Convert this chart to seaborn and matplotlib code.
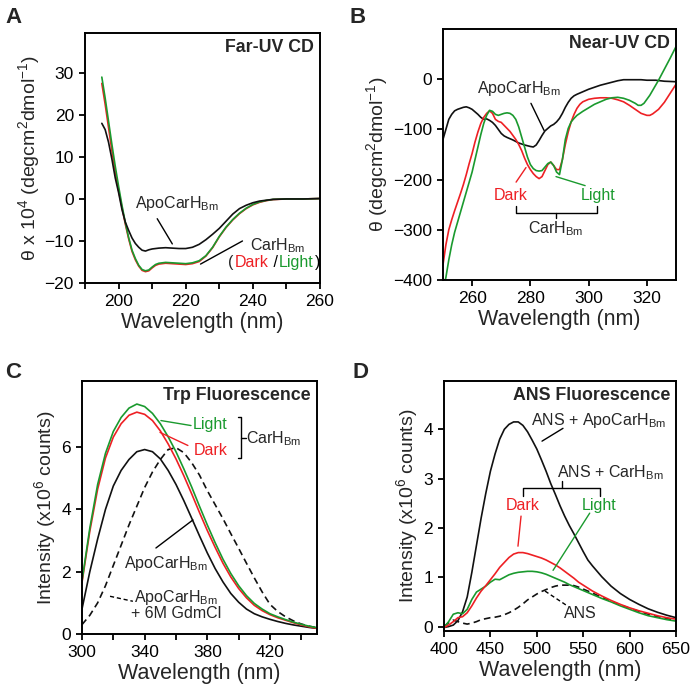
import matplotlib
matplotlib.use("Agg")
from matplotlib import pyplot as plt
from matplotlib.ticker import MultipleLocator
import seaborn as sns

# ---- panel A: far-UV CD (x10^4 deg cm2 dmol-1)
far_wl = [195, 196, 197, 198, 199, 200, 201, 202, 203, 204, 205, 206, 207, 208, 209, 210,
          211, 212, 214, 216, 218, 220, 222, 224, 226, 228, 230, 232, 234, 236, 238, 240,
          242, 244, 246, 250, 255, 260]
far_apo = [18, 16.5, 13.5, 9.5, 5, 1.5, -2.5, -5.5, -7.5, -9.3, -10.6, -11.5, -12.2, -12.4, -12.1, -11.9,
           -11.8, -11.7, -11.6, -11.7, -11.8, -11.8, -11.5, -10.8, -9.7, -8.4, -7.0, -5.3, -3.6, -2.3, -1.5, -0.9,
           -0.5, -0.3, -0.1, 0, 0, 0.1]
far_dark = [27.5, 22.5, 17, 11.5, 6.5, 2, -2, -6, -9.5, -12.5, -14.5, -16, -17, -17.3, -17.1, -16.4,
            -15.8, -15.5, -15.3, -15.4, -15.5, -15.6, -15.4, -14.9, -13.6, -11.6, -9.0, -6.8, -5.0, -3.5, -2.3, -1.4,
            -0.8, -0.4, -0.15, 0, 0, 0.1]
far_light = [29, 24, 18.5, 13, 7.8, 3, -1.5, -5.6, -9.2, -12.2, -14.2, -15.8, -16.8, -17.1, -16.9, -16.2,
             -15.6, -15.3, -15.1, -15.2, -15.3, -15.4, -15.2, -14.7, -13.5, -11.5, -8.9, -6.7, -4.9, -3.4, -2.2, -1.3,
             -0.7, -0.35, -0.1, 0, 0, 0.1]

# ---- panel B: near-UV CD
near_wl_apo = [250, 251, 252, 253, 254, 255, 256, 257, 258, 259, 260, 261, 262, 263, 264, 265, 266, 267,
               268, 269, 270, 271, 272, 274, 276, 278, 280, 281, 282, 283, 284, 285, 286, 287, 288, 289,
               290, 291, 292, 293, 294, 295, 296, 298, 300, 302, 304, 306, 308, 310, 312, 315, 318, 320,
               323, 326, 330]
near_apo = [-120, -100, -80, -70, -63, -60, -58, -56, -55, -57, -60, -65, -70, -76, -80, -79, -82, -86,
            -92, -100, -108, -113, -116, -121, -127, -131, -134, -135, -131, -122, -112, -103, -98, -93, -90, -85,
            -78, -68, -56, -46, -38, -33, -30, -25, -20, -16, -12, -9, -6, -3, -1, -1, -1, -2,
            -2, -4, -5]
near_wl = [250, 251, 252, 253, 254, 255, 256, 257, 258, 259, 260, 261, 262, 263, 264, 265, 266, 267,
           268, 269, 270, 271, 272, 273, 274, 275, 276, 277, 278, 279, 280, 281, 282, 283, 284, 285,
           286, 287, 288, 289, 290, 291, 292, 293, 294, 295, 296, 297, 298, 300, 302, 304, 306, 308,
           310, 312, 314, 316, 317, 318, 319, 320, 321, 322, 324, 326, 328, 330]
near_dark = [-370, -330, -300, -280, -262, -245, -228, -210, -190, -168, -148, -125, -105, -88, -76, -68, -63, -68,
             -80, -84, -86, -92, -98, -104, -112, -120, -130, -142, -157, -170, -180, -188, -194, -198, -194, -182,
             -170, -165, -172, -180, -180, -160, -130, -105, -85, -70, -58, -50, -45, -40, -38, -37, -37, -38,
             -41, -45, -52, -60, -64, -68, -70, -72, -72, -69, -60, -46, -28, -10]
near_light = [-420, -395, -360, -330, -305, -285, -265, -245, -225, -205, -185, -160, -135, -110, -88, -72, -62, -64,
              -70, -72, -70, -68, -67, -68, -72, -80, -95, -115, -135, -155, -170, -178, -182, -183, -182, -175,
              -168, -165, -172, -185, -190, -160, -120, -98, -85, -78, -72, -68, -64, -57, -50, -45, -40, -37,
              -36, -38, -42, -48, -52, -52, -48, -40, -32, -22, -2, 20, 42, 65]

# ---- panel C: Trp fluorescence (x10^6 counts)
trp_wl = [300, 305, 310, 315, 320, 325, 330, 335, 340, 345, 350, 355, 360, 365, 370, 375,
          380, 385, 390, 395, 400, 405, 410, 415, 420, 425, 430, 435, 440, 445, 450]
trp_light = [1.7, 3.4, 4.8, 5.8, 6.5, 6.95, 7.25, 7.38, 7.3, 7.08, 6.75, 6.33, 5.85, 5.3, 4.72, 4.1,
             3.5, 2.93, 2.4, 1.94, 1.55, 1.23, 0.98, 0.8, 0.65, 0.55, 0.46, 0.38, 0.31, 0.25, 0.2]
trp_dark = [1.65, 3.3, 4.65, 5.65, 6.32, 6.75, 7.02, 7.12, 7.05, 6.85, 6.52, 6.1, 5.62, 5.08, 4.5, 3.9,
            3.32, 2.78, 2.27, 1.83, 1.46, 1.16, 0.92, 0.75, 0.62, 0.52, 0.44, 0.36, 0.29, 0.23, 0.18]
trp_apo = [0.8, 2.0, 3.05, 4.0, 4.75, 5.25, 5.6, 5.85, 5.92, 5.85, 5.62, 5.25, 4.8, 4.28, 3.72, 3.15,
           2.6, 2.1, 1.67, 1.3, 1.02, 0.8, 0.65, 0.55, 0.47, 0.4, 0.34, 0.29, 0.25, 0.21, 0.18]
trp_gdm = [0.3, 0.6, 1.0, 1.55, 2.2, 2.85, 3.5, 4.1, 4.7, 5.2, 5.6, 5.92, 5.98, 5.82, 5.5, 5.1,
           4.6, 4.15, 3.7, 3.22, 2.75, 2.27, 1.8, 1.35, 0.95, 0.72, 0.55, 0.42, 0.32, 0.25, 0.2]

# ---- panel D: ANS fluorescence (x10^6 counts)
ans_wl = [400, 405, 410, 415, 420, 425, 430, 435, 440, 445, 450, 455, 460, 465, 470, 475, 480, 485,
          490, 495, 500, 505, 510, 515, 520, 525, 530, 535, 540, 545, 550, 555, 560, 570, 580, 590,
          600, 610, 620, 630, 640, 650]
ans_apo = [-0.02, 0.0, 0.03, 0.12, 0.3, 0.6, 1.1, 1.65, 2.2, 2.7, 3.15, 3.5, 3.8, 4.0, 4.1, 4.15, 4.15, 4.08,
           3.95, 3.78, 3.6, 3.38, 3.15, 2.9, 2.68, 2.45, 2.24, 2.05, 1.88, 1.7, 1.52, 1.35, 1.23, 1.01, 0.82, 0.67,
           0.55, 0.45, 0.36, 0.29, 0.23, 0.18]
ans_dark = [-0.02, 0.03, 0.1, 0.18, 0.2, 0.28, 0.42, 0.58, 0.72, 0.83, 0.95, 1.07, 1.2, 1.3, 1.4, 1.47, 1.5, 1.5,
            1.48, 1.45, 1.42, 1.39, 1.35, 1.3, 1.25, 1.19, 1.12, 1.05, 0.98, 0.9, 0.84, 0.78, 0.72, 0.62, 0.53, 0.45,
            0.38, 0.32, 0.27, 0.22, 0.18, 0.15]
ans_light = [-0.02, 0.1, 0.25, 0.28, 0.26, 0.35, 0.55, 0.7, 0.76, 0.82, 0.9, 0.96, 0.95, 1.0, 1.05, 1.08, 1.1, 1.11,
             1.12, 1.12, 1.11, 1.09, 1.06, 1.02, 0.98, 0.94, 0.9, 0.85, 0.81, 0.77, 0.73, 0.69, 0.65, 0.57, 0.5, 0.42,
             0.35, 0.28, 0.22, 0.18, 0.14, 0.11]
ans_only = [0.0, 0.08, 0.13, 0.1, 0.07, 0.05, 0.07, 0.1, 0.14, 0.16, 0.18, 0.19, 0.21, 0.24, 0.28, 0.33, 0.39, 0.46,
            0.54, 0.6, 0.66, 0.71, 0.75, 0.79, 0.82, 0.84, 0.84, 0.84, 0.83, 0.8, 0.76, 0.72, 0.68, 0.59, 0.51, 0.44,
            0.37, 0.31, 0.25, 0.2, 0.16, 0.13]

RED = "#ee2024"
GREEN = "#1a9a2e"
BLACK = "#111111"
BM = r"$_{\mathregular{Bm}}$"
FS = 11.5

sns.set_style("ticks")
plt.rcParams["font.family"] = ["Liberation Sans", "DejaVu Sans"]
plt.rcParams["mathtext.default"] = "regular"

fig = plt.figure(figsize=(6.93, 6.96), dpi=100)
axA = fig.add_axes([0.1227, 0.5934, 0.3391, 0.3592])
axB = fig.add_axes([0.6392, 0.5977, 0.3363, 0.3606])
axC = fig.add_axes([0.1183, 0.0891, 0.3391, 0.3635])
axD = fig.add_axes([0.6407, 0.0934, 0.3348, 0.3592])


def curve(ax, x, y, color, ls="-", lw=1.2):
    sns.lineplot(x=x, y=y, ax=ax, color=color, linestyle=ls, linewidth=lw,
                 estimator=None, errorbar=None, sort=False)


def style(ax, title, ylabel):
    for s in ax.spines.values():
        s.set_linewidth(1.4)
        s.set_color("black")
    ax.tick_params(axis="both", which="both", direction="out", width=1.3, labelsize=12.5,
                   colors="black", length=4.5)
    ax.set_xlabel("Wavelength (nm)", fontsize=15.5, labelpad=2)
    ax.set_ylabel(ylabel, fontsize=14, labelpad=2)
    ax.text(0.975, 0.975, title, transform=ax.transAxes, ha="right", va="top",
            fontsize=12.8, fontweight="bold")


def leader(ax, x0, y0, x1, y1, color="black", ls="-"):
    ax.plot([x0, x1], [y0, y1], color=color, lw=1.0, linestyle=ls)


# panel A
curve(axA, far_wl, far_dark, RED)
curve(axA, far_wl, far_light, GREEN)
curve(axA, far_wl, far_apo, BLACK)
axA.set_xlim(190, 260)
axA.set_ylim(-20, 39.5)
axA.set_xticks([200, 220, 240, 260])
axA.xaxis.set_minor_locator(MultipleLocator(10))
axA.set_yticks([-20, -10, 0, 10, 20, 30])
style(axA, "Far-UV CD", r"θ x 10$^{4}$ (degcm$^{2}$dmol$^{-1}$)")
axA.text(217.5, -1, "ApoCarH" + BM, ha="center", va="center", fontsize=FS)
leader(axA, 211.5, -4.7, 216, -10.7)
axA.text(247.3, -11.1, "CarH" + BM, ha="center", va="center", fontsize=FS)
# "(Dark /Light)" written piece by piece, each piece starting where the last ends
prev = axA.text(232.7, -15.1, "(", ha="left", va="center", fontsize=FS)
for piece, col in [("Dark", RED), (" /", "black"), ("Light", GREEN), (")", "black")]:
    prev = axA.annotate(piece, xycoords=prev, xy=(1, 0), xytext=(0.6, 0),
                        textcoords="offset points", ha="left", va="bottom",
                        color=col, fontsize=FS)
leader(axA, 236.9, -10, 224.4, -15.5)

# panel B
curve(axB, near_wl_apo, near_apo, BLACK)
curve(axB, near_wl, near_dark, RED)
curve(axB, near_wl, near_light, GREEN)
axB.set_xlim(250, 330)
axB.set_ylim(-400, 100)
axB.set_xticks([260, 280, 300, 320])
axB.set_yticks([-400, -300, -200, -100, 0])
style(axB, "Near-UV CD", r"θ (degcm$^{2}$dmol$^{-1}$)")
axB.text(276, -18, "ApoCarH" + BM, ha="center", va="center", fontsize=FS)
leader(axB, 280.2, -48, 284.7, -102)
axB.text(273.4, -232, "Dark", ha="center", va="center", color=RED, fontsize=FS)
axB.text(303.3, -232, "Light", ha="center", va="center", color=GREEN, fontsize=FS)
leader(axB, 275.1, -205, 278.5, -176, RED)
leader(axB, 288.8, -194, 298.8, -212, GREEN)
axB.plot([275.1, 275.1, 302.9, 302.9], [-252, -266, -266, -252], color="black", lw=1.0)
leader(axB, 288.8, -266, 288.8, -276)
axB.text(288.8, -298, "CarH" + BM, ha="center", va="center", fontsize=FS)

# panel C
curve(axC, trp_wl, trp_gdm, BLACK, ls=(0, (4, 2.5)))
curve(axC, trp_wl, trp_apo, BLACK)
curve(axC, trp_wl, trp_dark, RED)
curve(axC, trp_wl, trp_light, GREEN)
axC.set_xlim(300, 450)
axC.set_ylim(0, 8.12)
axC.set_xticks([300, 340, 380, 420])
axC.xaxis.set_minor_locator(MultipleLocator(20))
axC.set_yticks([0, 2, 4, 6])
style(axC, "Trp Fluorescence", r"Intensity (x10$^{6}$ counts)")
axC.text(382, 6.73, "Light", ha="center", va="center", color=GREEN, fontsize=FS)
axC.text(382, 5.89, "Dark", ha="center", va="center", color=RED, fontsize=FS)
leader(axC, 350.4, 6.85, 369.6, 6.69, GREEN)
leader(axC, 349.8, 6.47, 367.6, 6.05, RED)
axC.plot([399.6, 401.8, 401.8, 399.6], [6.95, 6.95, 5.66, 5.66], color="black", lw=1.0)
leader(axC, 401.8, 6.28, 404.5, 6.28)
axC.text(405, 6.28, "CarH" + BM, ha="left", va="center", fontsize=FS)
axC.text(353.6, 2.27, "ApoCarH" + BM, ha="center", va="center", fontsize=FS)
leader(axC, 347.2, 2.76, 370.8, 3.66)
axC.text(360, 0.95, "ApoCarH" + BM + "\n+ 6M GdmCl", ha="center", va="center",
         fontsize=FS, linespacing=0.95)
leader(axC, 317.9, 1.21, 332.5, 1.05, ls=(0, (3, 2)))

# panel D
curve(axD, ans_wl, ans_only, BLACK, ls=(0, (4, 2.5)))
curve(axD, ans_wl, ans_apo, BLACK)
curve(axD, ans_wl, ans_light, GREEN)
curve(axD, ans_wl, ans_dark, RED)
axD.set_xlim(400, 650)
axD.set_ylim(-0.09, 4.98)
axD.set_xticks([400, 450, 500, 550, 600, 650])
axD.set_yticks([0, 1, 2, 3, 4])
style(axD, "ANS Fluorescence", r"Intensity (x10$^{6}$ counts)")
axD.text(566, 4.17, "ANS + ApoCarH" + BM, ha="center", va="center", fontsize=FS)
leader(axD, 505.6, 3.76, 528.2, 4.02)
axD.text(578.9, 3.12, "ANS + CarH" + BM, ha="center", va="center", fontsize=FS)
axD.plot([485.1, 485.1, 568, 568], [2.65, 2.81, 2.81, 2.65], color="black", lw=1.0)
leader(axD, 527, 2.81, 527, 2.95)
axD.text(485.1, 2.45, "Dark", ha="center", va="center", color=RED, fontsize=FS)
axD.text(567, 2.45, "Light", ha="center", va="center", color=GREEN, fontsize=FS)
leader(axD, 483, 2.24, 479.7, 1.63, RED)
leader(axD, 557, 2.3, 517.5, 1.14, GREEN)
axD.text(546.6, 0.27, "ANS", ha="center", va="center", fontsize=FS)
leader(axD, 508.8, 0.72, 533.6, 0.41, ls=(0, (3, 2)))

for lbl, (x, y) in zip("ABCD", [(0.008, 0.975), (0.505, 0.975), (0.008, 0.465), (0.508, 0.465)]):
    fig.text(x, y, lbl, fontsize=16, fontweight="bold", ha="left", va="center")

fig.savefig("out.png", dpi=100)
